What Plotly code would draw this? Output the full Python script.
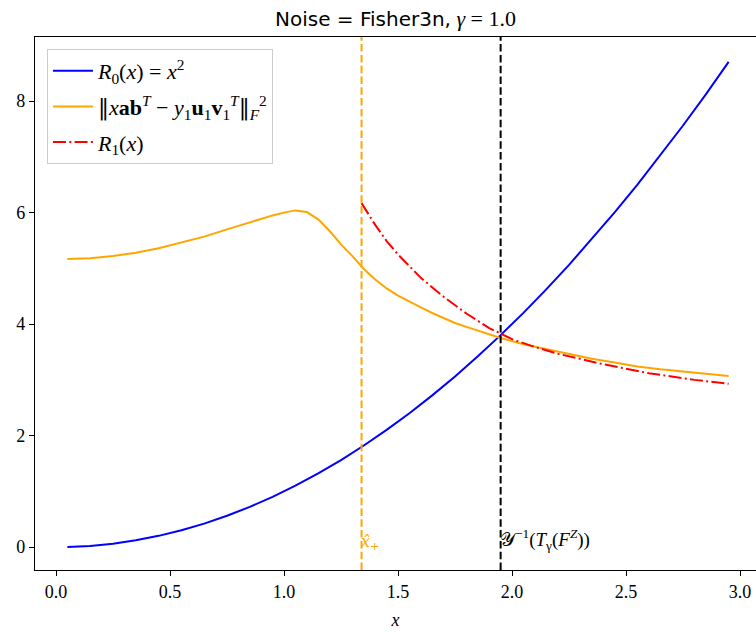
import plotly.graph_objects as go

# ---- data ----
blue_x = [0.05, 0.15, 0.25, 0.35, 0.45, 0.55, 0.65, 0.75, 0.85, 0.95,
          1.05, 1.15, 1.25, 1.35, 1.45, 1.55, 1.65, 1.75, 1.85, 1.95,
          2.05, 2.15, 2.25, 2.35, 2.45, 2.55, 2.65, 2.75, 2.85, 2.95]
blue_y = [0.0025, 0.0225, 0.0625, 0.1225, 0.2025, 0.3025, 0.4225, 0.5625, 0.7225, 0.9025,
          1.1025, 1.3225, 1.5625, 1.8225, 2.1025, 2.4025, 2.7225, 3.0625, 3.4225, 3.8025,
          4.2025, 4.6225, 5.0625, 5.5225, 6.0025, 6.5025, 7.0225, 7.5625, 8.1225, 8.7025]

orange_x = [0.05, 0.15, 0.25, 0.35, 0.45, 0.55, 0.65, 0.75, 0.85, 0.95,
            1.00, 1.05, 1.10, 1.15, 1.20, 1.25, 1.30, 1.35, 1.40, 1.45,
            1.50, 1.55, 1.60, 1.65, 1.70, 1.75, 1.80, 1.85, 1.90, 1.95,
            2.05, 2.15, 2.25, 2.35, 2.45, 2.55, 2.65, 2.75, 2.85, 2.95]
orange_y = [5.17, 5.18, 5.22, 5.28, 5.36, 5.46, 5.57, 5.70, 5.83, 5.95,
            6.00, 6.04, 6.01, 5.88, 5.67, 5.43, 5.22, 4.99, 4.80, 4.64,
            4.51, 4.40, 4.30, 4.20, 4.11, 4.02, 3.95, 3.88, 3.81, 3.75,
            3.64, 3.55, 3.46, 3.38, 3.31, 3.24, 3.19, 3.15, 3.11, 3.07]

red_x = [1.34, 1.40, 1.45, 1.50, 1.60, 1.70, 1.80, 1.90, 2.00, 2.10,
         2.20, 2.30, 2.40, 2.50, 2.60, 2.70, 2.80, 2.95]
red_y = [6.17, 5.78, 5.49, 5.25, 4.83, 4.49, 4.19, 3.93, 3.73, 3.59,
         3.47, 3.37, 3.28, 3.20, 3.12, 3.06, 3.00, 2.93]

x_hat_plus = 1.34
y_inv_T = 1.95

x_ticks = [0.0, 0.5, 1.0, 1.5, 2.0, 2.5, 3.0]
x_tick_labels = ["0.0", "0.5", "1.0", "1.5", "2.0", "2.5", "3.0"]
y_ticks = [0, 2, 4, 6, 8]
y_tick_labels = ["0", "2", "4", "6", "8"]

SERIF = "Liberation Serif, DejaVu Serif, serif"
NORM = "<span style='font-family:DejaVu Serif'>‖</span>"

fig = go.Figure()
fig.add_trace(go.Scatter(x=blue_x, y=blue_y, mode="lines", legendgroup="a",
                         line=dict(color="blue", width=2),
                         name="<i>R</i><sub>0</sub>(<i>x</i>) = <i>x</i><sup>2</sup>"))
fig.add_trace(go.Scatter(x=orange_x, y=orange_y, mode="lines", legendgroup="b",
                         line=dict(color="orange", width=2),
                         name=NORM + "<i>x</i><b>ab</b><sup><i>T</i></sup> − <i>y</i><sub>1</sub><b>u</b><sub>1</sub><b>v</b><sub>1</sub><sup><i>T</i></sup>"
                              + NORM + "<sub><i>F</i></sub><sup>2</sup>"))
fig.add_trace(go.Scatter(x=red_x, y=red_y, mode="lines", legendgroup="c",
                         line=dict(color="red", width=2, dash="13px,3.3px,2px,3.3px"),
                         name="<i>R</i><sub>1</sub>(<i>x</i>)"))

fig.add_vline(x=x_hat_plus, line=dict(color="orange", width=2, dash="7.5px,3.3px"))
fig.add_vline(x=y_inv_T, line=dict(color="black", width=2, dash="7.5px,3.3px"))

fig.add_annotation(x=x_hat_plus, y=0, xref="x", yref="y", xanchor="left", yanchor="bottom",
                   showarrow=False, yshift=-8, xshift=-3,
                   text="<i>x\u0302</i><sub>+</sub>",
                   font=dict(family="DejaVu Serif", size=16, color="orange"))
fig.add_annotation(x=y_inv_T, y=0, xref="x", yref="y", xanchor="left", yanchor="bottom",
                   showarrow=False, yshift=-8, xshift=-3,
                   text="𝒴<sup>−1</sup>(<i>T</i><sub>γ</sub>(<i>F</i><sup><i>Z</i></sup>))",
                   font=dict(family=SERIF, size=19, color="black"))

fig.update_layout(
    width=756, height=632,
    margin=dict(l=35, r=0, t=37, b=62, autoexpand=False),
    plot_bgcolor="white", paper_bgcolor="white",
    font=dict(family=SERIF, size=17, color="black"),
    title=dict(text="<span style='font-family:DejaVu Sans;font-size:20px'>Noise = Fisher3n,</span> <i>γ</i>\u00a0=\u00a01.0",
               x=0.5, xref="paper", xanchor="center",
               y=1 - 18 / 632, yref="container", yanchor="middle",
               font=dict(family=SERIF, size=22, color="black")),
    showlegend=True,
    legend=dict(x=0.0166, y=0.9775, xanchor="left", yanchor="top",
                bgcolor="rgba(255,255,255,0.8)", bordercolor="#cccccc", borderwidth=1,
                font=dict(family=SERIF, size=22, color="black"),
                itemwidth=40, tracegroupgap=4),
)
fig.update_xaxes(range=[-0.0921, 3.070], tickvals=x_ticks, ticktext=x_tick_labels,
                 ticks="outside", ticklen=5, tickwidth=1, tickcolor="black",
                 showline=True, linecolor="black", linewidth=1.2, mirror=True,
                 showgrid=False, zeroline=False, automargin=False,
                 title=dict(text="<i>x</i>", font=dict(family=SERIF, size=18), standoff=12),
                 tickfont=dict(family=SERIF, size=18))
fig.update_yaxes(range=[-0.41, 9.15], tickvals=y_ticks, ticktext=y_tick_labels,
                 ticks="outside", ticklen=5, tickwidth=1, tickcolor="black",
                 showline=True, linecolor="black", linewidth=1.2, mirror=False,
                 showgrid=False, zeroline=False, automargin=False,
                 tickfont=dict(family=SERIF, size=18))

fig.write_html("out.html", config={"displayModeBar": False},
               post_script="document.body.style.margin='0';document.body.style.overflow='hidden';")
